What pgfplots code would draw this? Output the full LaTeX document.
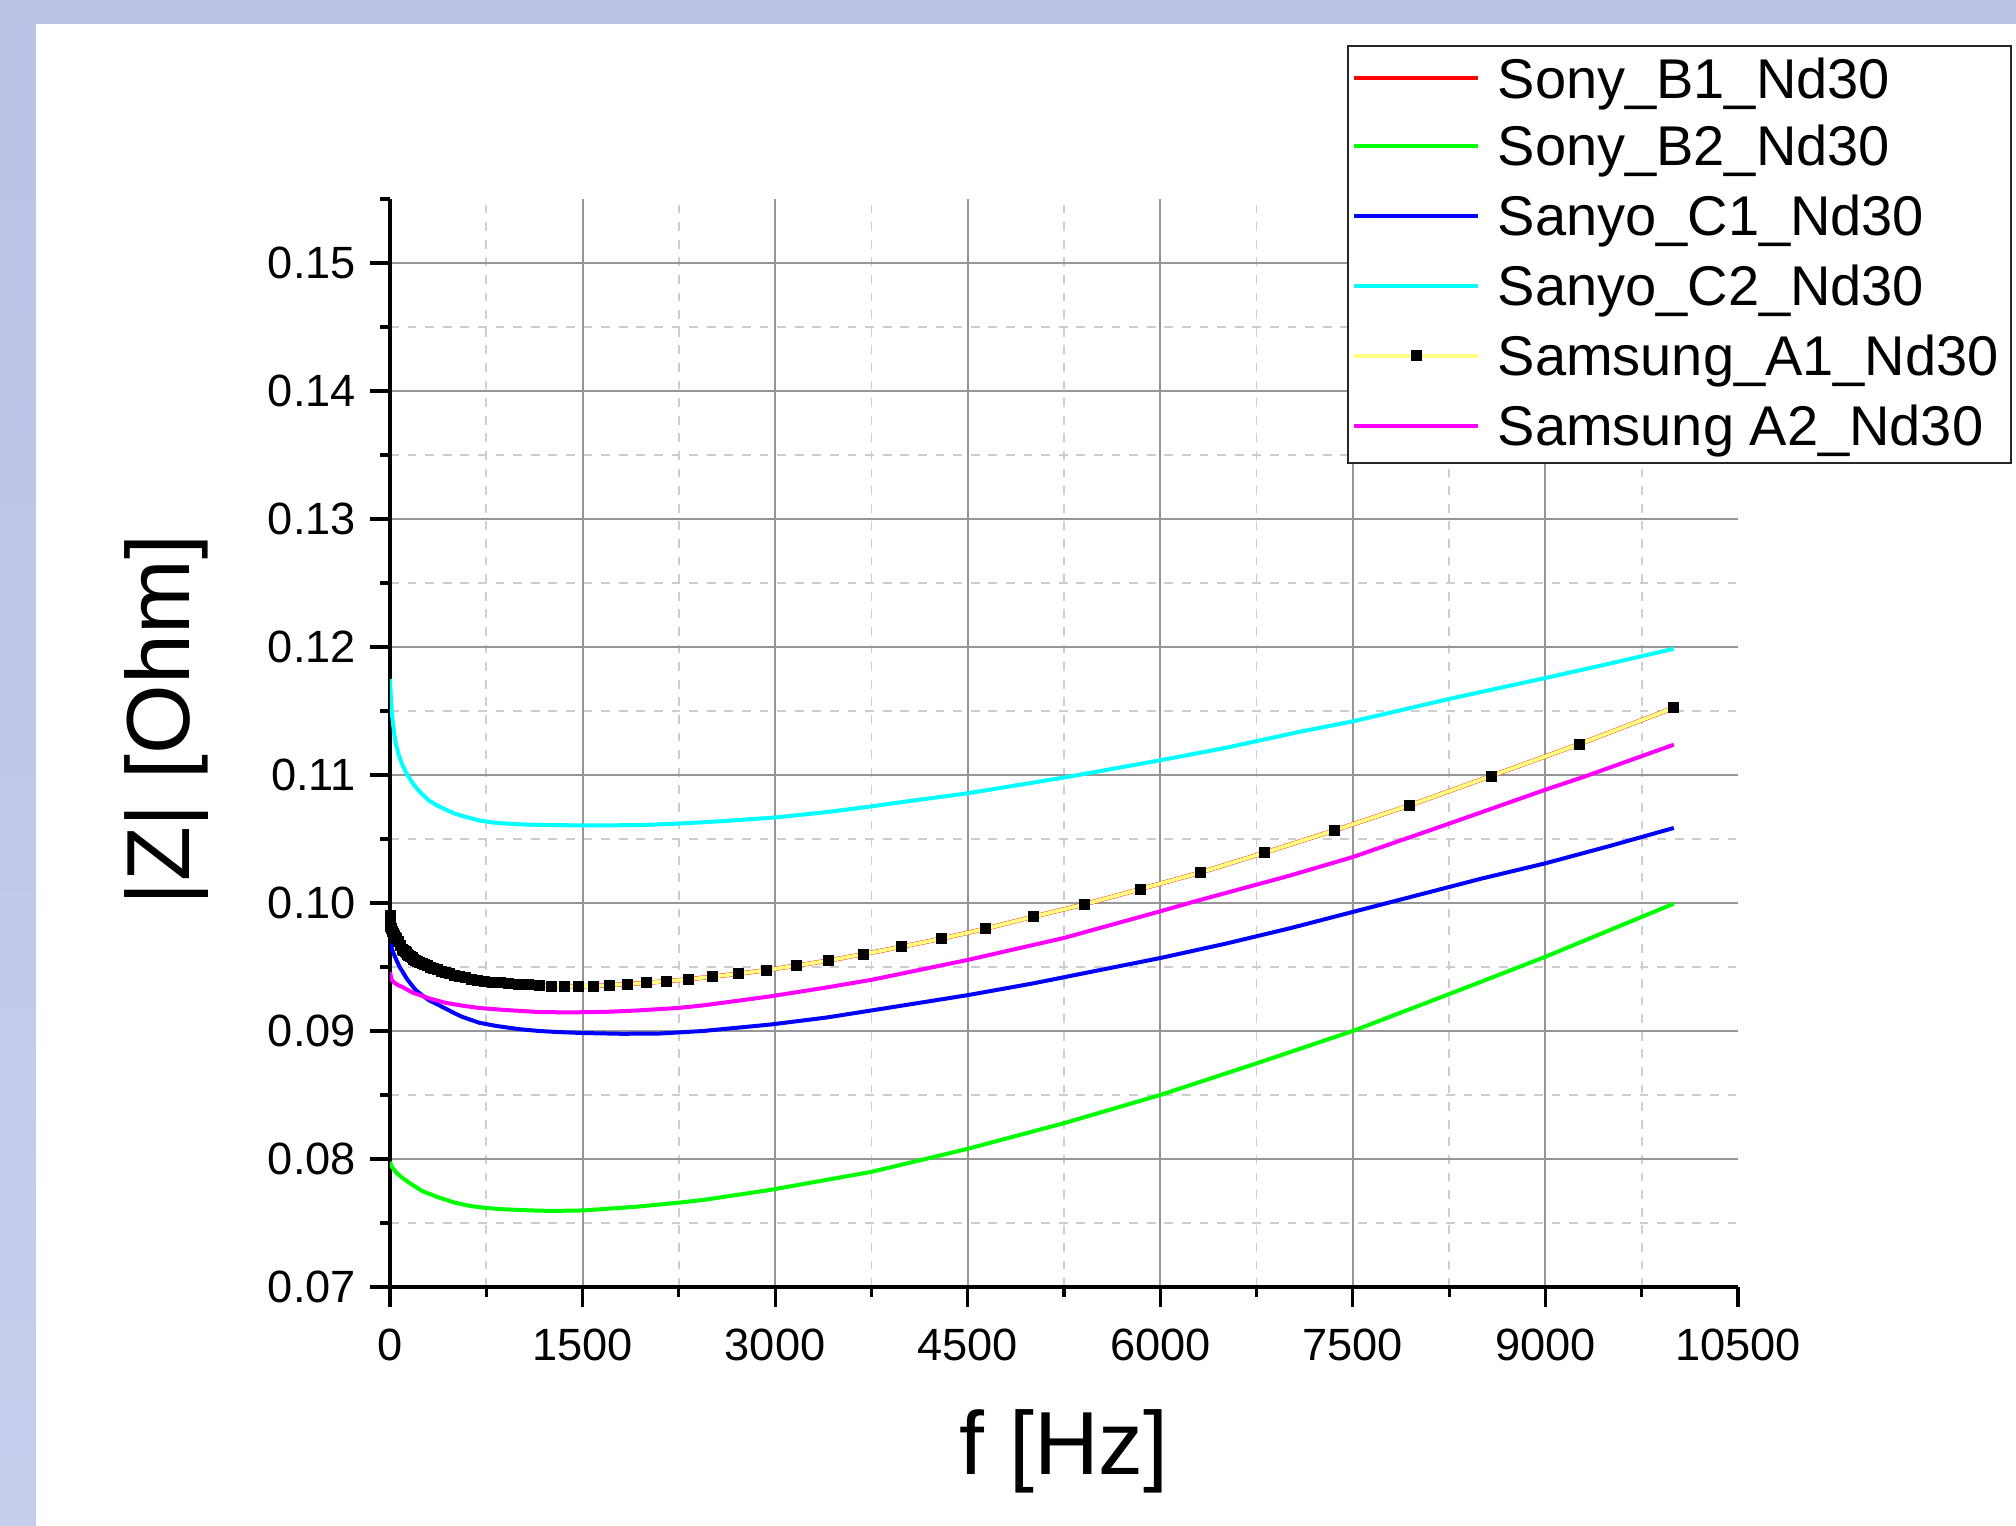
\documentclass[border=0pt]{standalone}
\usepackage{fontspec}
\setmainfont{Liberation Sans}
\usepackage{pgfplots}
\pgfplotsset{compat=1.18}
\usepackage{pgfplotstable}

\definecolor{bgblue}{RGB}{186,195,230}
\definecolor{bgblue2}{RGB}{199,206,236}
\definecolor{pyellow}{RGB}{255,255,128}
\definecolor{pred}{RGB}{255,0,0}
\definecolor{pgreen}{RGB}{0,255,0}
\definecolor{pblue}{RGB}{0,0,255}
\definecolor{pcyan}{RGB}{0,255,255}
\definecolor{pmagenta}{RGB}{255,0,255}
\definecolor{gridmajor}{RGB}{150,150,150}
\definecolor{gridminor}{RGB}{205,205,205}

% Samsung_A1_Nd30 (and Sony_B1_Nd30, drawn underneath)
\pgfplotstableread{
f v
1 0.0990
1.585 0.0988
2.512 0.0986
3.981 0.0984
6.310 0.0982
10 0.0980
15.85 0.0978
25.12 0.0976
31.62 0.0975
39.81 0.0973
50.12 0.0972
63.10 0.0970
79.43 0.0967
100 0.09640
107.98 0.09630
116.59 0.09620
125.89 0.09611
135.94 0.09601
146.78 0.09592
158.49 0.09582
171.13 0.09573
184.78 0.09563
199.53 0.09554
215.44 0.09545
232.63 0.09536
251.19 0.09527
271.23 0.09518
292.86 0.09509
316.23 0.09498
341.46 0.09488
368.70 0.09478
398.11 0.09468
429.87 0.09457
464.16 0.09446
501.19 0.09436
541.17 0.09426
584.34 0.09416
630.96 0.09406
681.29 0.09398
735.64 0.09390
794.33 0.09383
857.70 0.09377
926.12 0.09371
1000 0.09366
1079.8 0.09361
1165.9 0.09356
1258.9 0.09352
1359.4 0.09350
1467.8 0.09350
1584.9 0.09352
1711.3 0.09358
1847.8 0.09366
1995.3 0.09376
2154.4 0.09389
2326.3 0.09404
2511.9 0.09424
2712.3 0.09447
2928.6 0.09475
3162.3 0.09510
3414.5 0.09550
3687.0 0.09600
3981.1 0.09657
4298.7 0.09722
4641.6 0.09800
5011.9 0.09893
5411.7 0.09990
5843.4 0.10108
6309.6 0.10237
6812.9 0.10393
7356.4 0.10567
7943.3 0.10763
8576.9 0.10992
9261.2 0.11240
10000 0.11525
}\samsungA

\begin{document}
\begin{tikzpicture}
\path[use as bounding box] (-97.5pt,-59.75pt) rectangle (406.5pt,321.75pt);
\fill[bgblue] (-97.5pt,-59.75pt) rectangle (406.5pt,321.75pt);
\shade[top color=bgblue, bottom color=bgblue2] (-97.5pt,-59.75pt) rectangle (-88.5pt,315.75pt);
\fill[white] (-88.5pt,-59.75pt) rectangle (406.5pt,315.75pt);
\begin{axis}[
  at={(0pt,0pt)}, anchor=south west,
  scale only axis,
  width=337pt, height=272pt,
  xmin=0, xmax=10500,
  ymin=0.07, ymax=0.155,
  axis lines=left,
  axis line style={-, line width=0.9pt, black},
  xtick={0,1500,3000,4500,6000,7500,9000},
  extra x ticks={10500},
  extra x tick style={grid=none},
  minor xtick={750,2250,3750,5250,6750,8250,9750},
  ytick={0.07,0.08,0.09,0.1,0.11,0.12,0.13,0.14,0.15},
  minor ytick={0.075,0.085,0.095,0.105,0.115,0.125,0.135,0.145},
  extra y ticks={0.155},
  extra y tick labels={},
  extra y tick style={grid=none, major tick length=2.5pt},
  scaled x ticks=false, scaled y ticks=false,
  tick align=outside,
  major tick length=5pt,
  minor tick length=2.5pt,
  tick style={black, line width=0.8pt},
  grid=both,
  major grid style={gridmajor, line width=0.5pt},
  minor grid style={gridminor, line width=0.45pt, dash pattern=on 2.2pt off 2.2pt},
  /pgf/number format/assume math mode=true,
  tick label style={font=\fontsize{11.3}{13}\selectfont, black},
  xticklabel style={/pgf/number format/1000 sep={}, /pgf/number format/fixed, yshift=-1.9pt},
  yticklabel style={/pgf/number format/fixed, /pgf/number format/fixed zerofill, /pgf/number format/precision=2},
  xlabel={f [Hz]},
  ylabel={|Z| [Ohm]},
  label style={font=\fontsize{22.4}{26}\selectfont},
  xlabel style={at={(axis description cs:0.5,-0.151)}, anchor=center},
  ylabel style={at={(axis description cs:-0.166,0.521)}, anchor=center},
  legend style={at={(axis description cs:0.71,1.1415)}, anchor=north west,
    draw=black!85, line width=0.6pt, fill=white,
    font=\fontsize{14}{17}\selectfont,
    inner sep=1pt, row sep=1.85pt, column sep=2.25pt,
    nodes={inner sep=2pt},
    cells={anchor=west}},
  legend image code/.code={\draw[mark repeat=2,mark phase=2,#1] plot coordinates {(0pt,0.5pt) (15.5pt,0.5pt) (31pt,0.5pt)};},
]
% Sony_B1_Nd30
\addplot[pred, line width=1.1pt] table[x=f,y=v] {\samsungA};
\addlegendentry{\raisebox{-0.9pt}{Sony\_B1\_Nd30}}
% Sony_B2_Nd30
\addplot[pgreen, line width=1pt] coordinates {
(1,0.0798)(5,0.0796)(20,0.0793)(52,0.0789)(100,0.0785)(156,0.0781)(250,0.0775)
(364,0.07705)(500,0.0766)(623,0.07633)(750,0.07617)(883,0.07607)(1100,0.07598)
(1259,0.07594)(1506,0.07598)(1921,0.07627)(2243,0.07658)(2440,0.0768)(2960,0.07758)
(3753,0.0790)(4130,0.0799)(4502,0.0808)(5251,0.0828)(6000,0.0850)(6759,0.0875)
(7500,0.0900)(8255,0.0929)(9000,0.0958)(10000,0.09995)};
\addlegendentry{Sony\_B2\_Nd30}
% Sanyo_C1_Nd30
\addplot[pblue, line width=1pt] coordinates {
(1,0.0970)(5,0.0968)(15,0.0964)(30,0.0960)(52,0.0955)(75,0.0950)(100,0.0946)
(130,0.0941)(160,0.0937)(200,0.0932)(250,0.0928)(304,0.0924)(364,0.0921)
(433,0.09175)(500,0.0914)(563,0.0911)(693,0.09065)(823,0.0904)(1000,0.09015)
(1160,0.0900)(1300,0.08992)(1500,0.08984)(1806,0.08978)(2100,0.0898)(2440,0.0900)
(2960,0.0905)(3400,0.09105)(4000,0.0920)(4500,0.0928)(5000,0.0937)(5500,0.0947)
(6000,0.0957)(6500,0.0968)(7000,0.0980)(7500,0.0993)(8000,0.1006)(8500,0.1019)
(9000,0.1031)(9500,0.10445)(10000,0.10586)};
\addlegendentry{Sanyo\_C1\_Nd30}
% Sanyo_C2_Nd30
\addplot[pcyan, line width=1pt] coordinates {
(1,0.1175)(2,0.1172)(4,0.1167)(7,0.1160)(12,0.1152)(18,0.1145)(28,0.1136)
(44,0.1125)(70,0.1115)(96,0.1108)(130,0.1101)(174,0.1094)(230,0.1087)(304,0.1080)
(370,0.1076)(433,0.1073)(500,0.1070)(563,0.1068)(693,0.10645)(823,0.10626)
(1000,0.10615)(1160,0.1061)(1500,0.10606)(1936,0.10608)(2247,0.1062)(2600,0.1064)
(3000,0.10668)(3400,0.1071)(3752,0.10755)(4000,0.1079)(4500,0.10857)(5250,0.1098)
(6000,0.11115)(6500,0.1121)(7073,0.11335)(7500,0.11419)(8250,0.11594)(9000,0.11758)
(9500,0.1187)(10000,0.11986)};
\addlegendentry{Sanyo\_C2\_Nd30}
% Samsung_A1_Nd30
\addplot[pyellow, line width=0.95pt, mark=square*, mark size=1.25pt,
  mark options={fill=black, draw=black, line width=0.2pt}] table[x=f,y=v] {\samsungA};
\addlegendentry{Samsung\_A1\_Nd30}
% Samsung A2_Nd30
\addplot[pmagenta, line width=1pt] coordinates {
(1,0.0946)(4,0.0944)(8,0.0942)(13,0.0940)(30,0.0938)(60,0.0936)(104,0.0934)
(174,0.0930)(234,0.0928)(304,0.09255)(433,0.0922)(563,0.09198)(693,0.0918)
(883,0.09165)(1160,0.09148)(1400,0.09145)(1700,0.0915)(1921,0.0916)(2247,0.0918)
(2440,0.0920)(2960,0.0927)(3400,0.0934)(3752,0.0940)(3970,0.09445)(4500,0.09555)
(5250,0.09727)(6000,0.09935)(6271,0.10013)(7009,0.10214)(7500,0.10359)(8250,0.1062)
(9000,0.10885)(9284,0.1098)(10000,0.11237)};
\addlegendentry{Samsung A2\_Nd30}
\end{axis}
\end{tikzpicture}
\end{document}
